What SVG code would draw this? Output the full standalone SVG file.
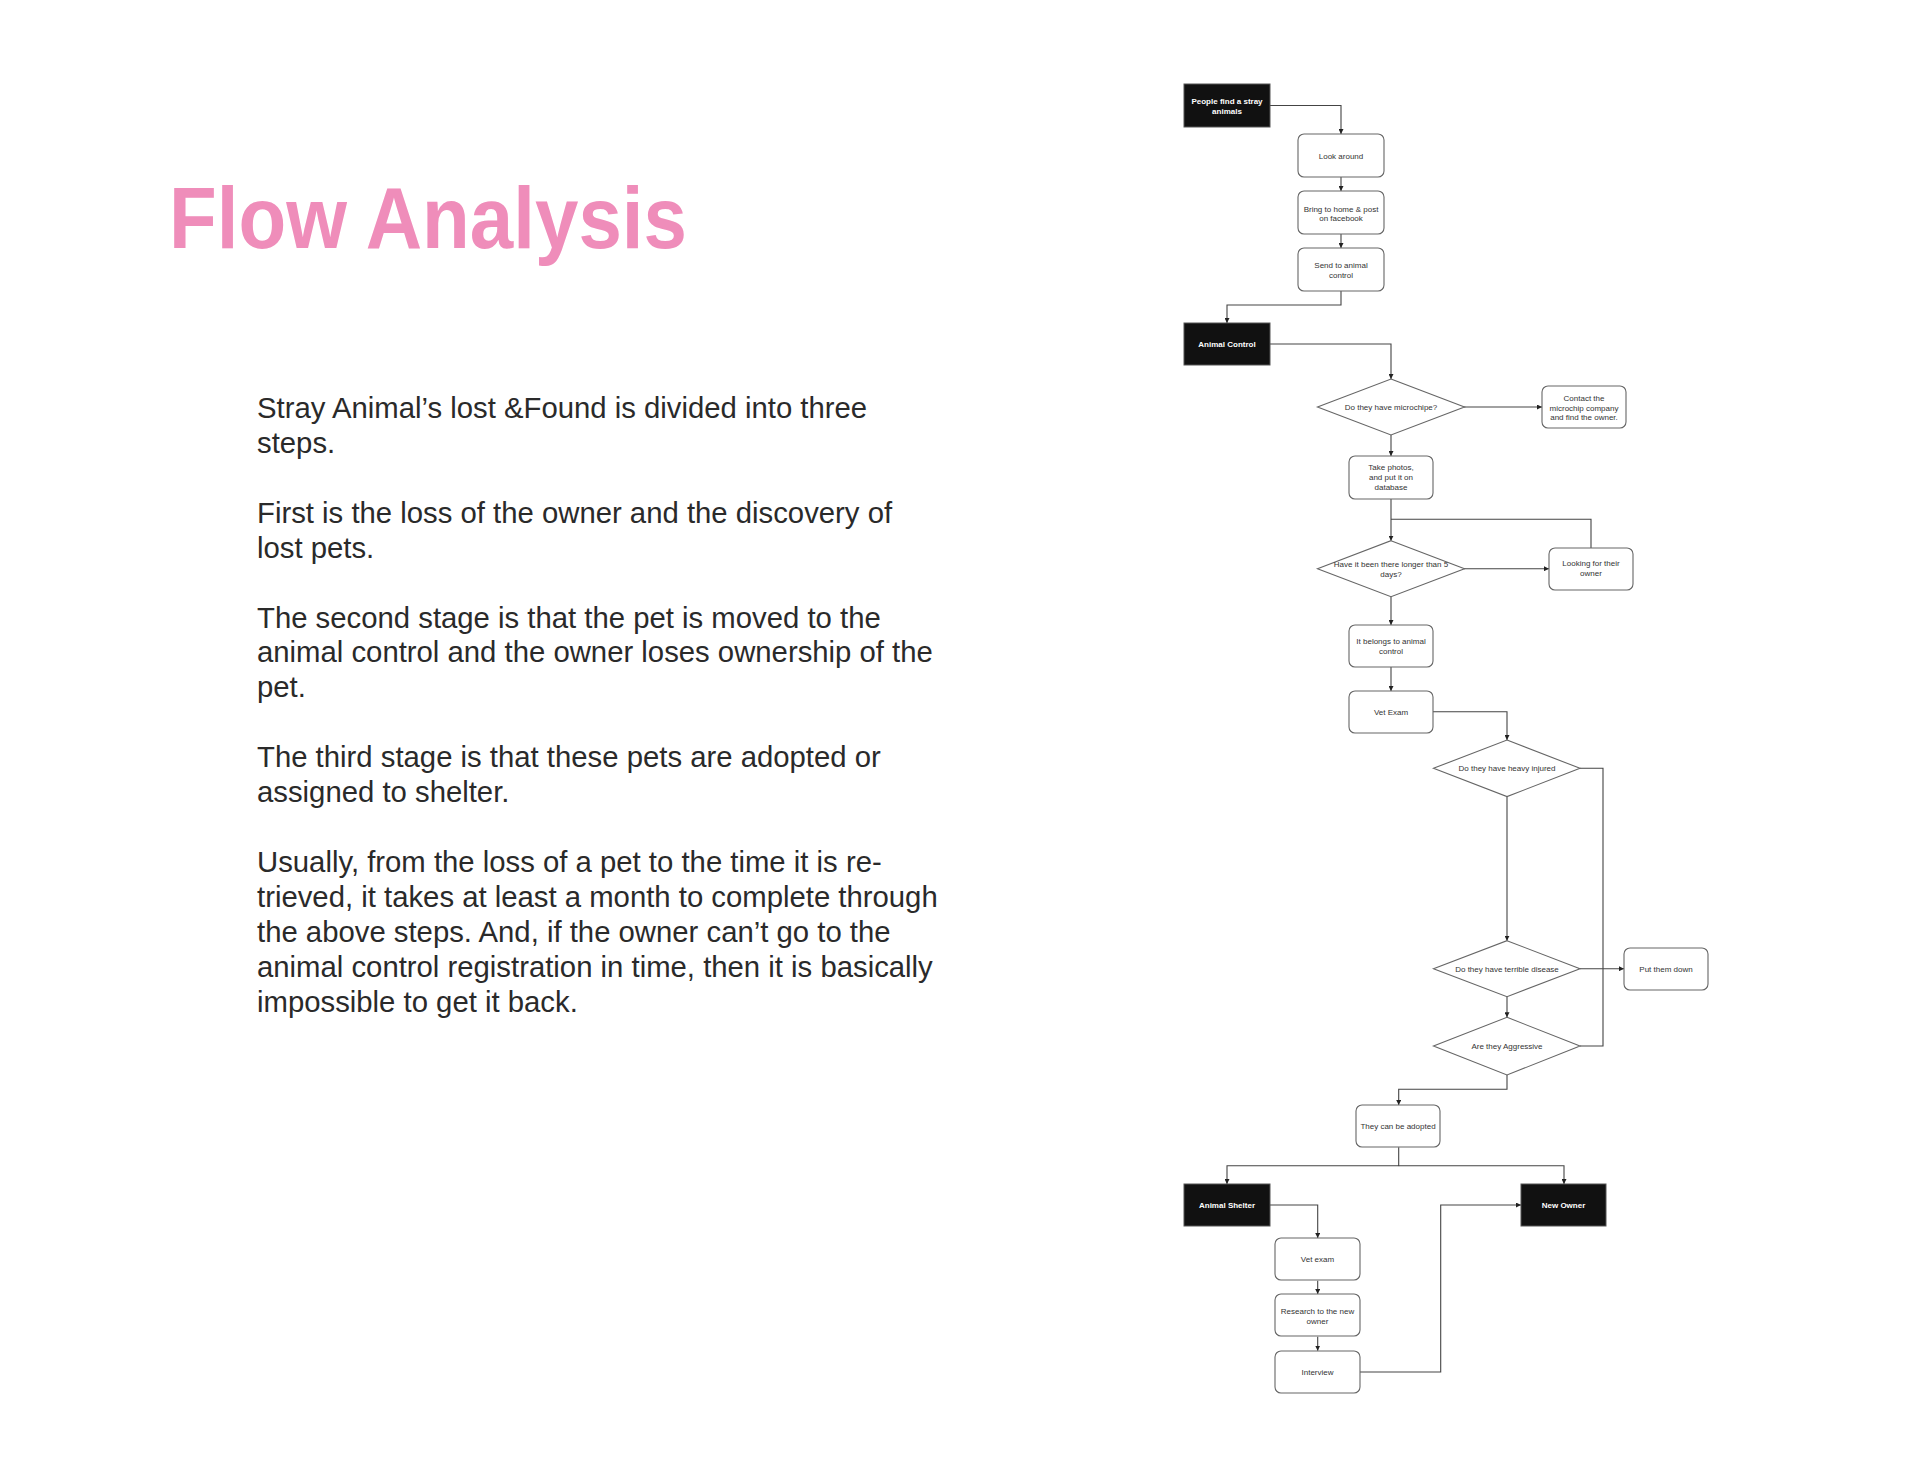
<svg xmlns="http://www.w3.org/2000/svg" width="1920" height="1484" viewBox="0 0 1920 1484">
<style>
.title{font-family:"Liberation Sans",Arial,sans-serif;font-weight:bold;font-size:87px;fill:#EF8DBA}
.body{font-family:"Liberation Sans",Arial,sans-serif;font-size:29.3px;fill:#2a2a2a}
.box{fill:#fff;stroke:#666;stroke-width:1.1}
.blk{fill:#111;stroke:#555;stroke-width:1}
.dia{fill:#fff;stroke:#666;stroke-width:1.1}
.t{font-family:"Liberation Sans",Arial,sans-serif;font-size:8px;fill:#333;text-anchor:middle}
.tw{font-family:"Liberation Sans",Arial,sans-serif;font-size:8px;font-weight:bold;fill:#fff;text-anchor:middle}
.ln{fill:none;stroke:#444;stroke-width:1.1}
.ar{marker-end:url(#ah)}
</style>
<defs>
<marker id="ah" viewBox="0 0 10 10" refX="10" refY="5" markerWidth="5" markerHeight="5" markerUnits="userSpaceOnUse" orient="auto">
<path d="M0,0 L10,5 L0,10 z" fill="#222"/>
</marker>
</defs>
<rect width="1920" height="1484" fill="#fff"/>

<g id="title"><text class="title" x="169" y="248" textLength="518" lengthAdjust="spacingAndGlyphs">Flow Analysis</text></g>

<g id="description" class="body">
<text x="257" y="418">Stray Animal’s lost &amp;Found is divided into three</text>
<text x="257" y="452.9">steps.</text>
<text x="257" y="522.8">First is the loss of the owner and the discovery of</text>
<text x="257" y="557.7">lost pets.</text>
<text x="257" y="627.5">The second stage is that the pet is moved to the</text>
<text x="257" y="662.4">animal control and the owner loses ownership of the</text>
<text x="257" y="697.3">pet.</text>
<text x="257" y="767.2">The third stage is that these pets are adopted or</text>
<text x="257" y="802.1">assigned to shelter.</text>
<text x="257" y="871.9">Usually, from the loss of a pet to the time it is re-</text>
<text x="257" y="906.8">trieved, it takes at least a month to complete through</text>
<text x="257" y="941.7">the above steps. And, if the owner can’t go to the</text>
<text x="257" y="976.6">animal control registration in time, then it is basically</text>
<text x="257" y="1011.5">impossible to get it back.</text>
</g>

<g id="connectors">
<path class="ln ar" d="M1270,105.5 H1341 V134"/>
<path class="ln ar" d="M1341,177 V191"/>
<path class="ln ar" d="M1341,234 V248"/>
<path class="ln ar" d="M1341,291 V305 H1227 V323"/>
<path class="ln ar" d="M1270,344 H1391 V379"/>
<path class="ln ar" d="M1464,407 H1542"/>
<path class="ln ar" d="M1391,435 V456"/>
<path class="ln ar" d="M1391,499 V540.7"/>
<path class="ln" d="M1591,548 V519.3 H1391"/>
<path class="ln ar" d="M1464,568.7 H1549"/>
<path class="ln ar" d="M1391,596.7 V625"/>
<path class="ln ar" d="M1391,667 V691"/>
<path class="ln ar" d="M1433,711.7 H1507 V740"/>
<path class="ln ar" d="M1507,796.6 V940.7"/>
<path class="ln" d="M1580,768.3 H1603 V1046 H1580"/>
<path class="ln ar" d="M1580,968.7 H1624"/>
<path class="ln ar" d="M1507,996.7 V1017.3"/>
<path class="ln ar" d="M1507,1075 V1089.3 H1398.7 V1105"/>
<path class="ln ar" d="M1398.7,1147.3 V1165.7 H1227 V1184"/>
<path class="ln ar" d="M1398.7,1165.7 H1564 V1184"/>
<path class="ln ar" d="M1269,1205 H1317.7 V1238"/>
<path class="ln ar" d="M1317.7,1280.7 V1294"/>
<path class="ln ar" d="M1317.7,1336.7 V1350.7"/>
<path class="ln ar" d="M1360,1372 H1440.7 V1205 H1521"/>
</g>

<g id="n-people"><rect class="blk" x="1184" y="84" width="86" height="43"/><text class="tw" x="1227" y="104">People find a stray</text><text class="tw" x="1227" y="113.5">animals</text></g>
<g id="n-look"><rect class="box" x="1298" y="134" width="86" height="43" rx="6"/><text class="t" x="1341" y="158.5">Look around</text></g>
<g id="n-bring"><rect class="box" x="1298" y="191" width="86" height="43" rx="6"/><text class="t" x="1341" y="211.8">Bring to home &amp; post</text><text class="t" x="1341" y="221.3">on facebook</text></g>
<g id="n-send"><rect class="box" x="1298" y="248" width="86" height="43" rx="6"/><text class="t" x="1341" y="268.3">Send to animal</text><text class="t" x="1341" y="277.8">control</text></g>
<g id="n-animal-control"><rect class="blk" x="1184" y="323" width="86" height="42"/><text class="tw" x="1227" y="347">Animal Control</text></g>
<g id="d-microchip"><path class="dia" d="M1391,379 L1464.5,407 L1391,435 L1317.5,407 Z"/><text class="t" x="1391" y="410">Do they have microchipe?</text></g>
<g id="n-contact"><rect class="box" x="1542" y="386" width="84" height="42" rx="6"/><text class="t" x="1584" y="400.7">Contact the</text><text class="t" x="1584" y="410.5">microchip company</text><text class="t" x="1584" y="420.3">and find the owner.</text></g>
<g id="n-photos"><rect class="box" x="1349" y="456" width="84" height="43" rx="6"/><text class="t" x="1391" y="470.3">Take photos,</text><text class="t" x="1391" y="480.1">and put it on</text><text class="t" x="1391" y="490">database</text></g>
<g id="d-days"><path class="dia" d="M1391,540.7 L1464.5,568.7 L1391,596.7 L1317.5,568.7 Z"/><text class="t" x="1391" y="567.3">Have it been there longer than 5</text><text class="t" x="1391" y="577">days?</text></g>
<g id="n-looking"><rect class="box" x="1549" y="548" width="84" height="42" rx="6"/><text class="t" x="1591" y="566.3">Looking for their</text><text class="t" x="1591" y="576.3">owner</text></g>
<g id="n-belongs"><rect class="box" x="1349" y="625" width="84" height="42" rx="6"/><text class="t" x="1391" y="644">It belongs to animal</text><text class="t" x="1391" y="653.7">control</text></g>
<g id="n-vet"><rect class="box" x="1349" y="691" width="84" height="42" rx="6"/><text class="t" x="1391" y="714.7">Vet Exam</text></g>
<g id="d-injured"><path class="dia" d="M1507,740 L1580,768.3 L1507,796.6 L1433.5,768.3 Z"/><text class="t" x="1507" y="771.3">Do they have heavy injured</text></g>
<g id="d-disease"><path class="dia" d="M1507,940.7 L1580,968.7 L1507,996.7 L1433.5,968.7 Z"/><text class="t" x="1507" y="971.7">Do they have terrible disease</text></g>
<g id="n-putdown"><rect class="box" x="1624" y="948" width="84" height="42" rx="6"/><text class="t" x="1666" y="971.7">Put them down</text></g>
<g id="d-aggressive"><path class="dia" d="M1507,1017.3 L1580,1046 L1507,1075 L1433.5,1046 Z"/><text class="t" x="1507" y="1049">Are they Aggressive</text></g>
<g id="n-adopted"><rect class="box" x="1356" y="1105" width="84" height="42" rx="6"/><text class="t" x="1398" y="1129.3">They can be adopted</text></g>
<g id="n-shelter"><rect class="blk" x="1184" y="1184" width="86" height="42"/><text class="tw" x="1227" y="1208">Animal Shelter</text></g>
<g id="n-newowner"><rect class="blk" x="1521" y="1184" width="85" height="42"/><text class="tw" x="1563.5" y="1208">New Owner</text></g>
<g id="n-vetexam"><rect class="box" x="1275" y="1238" width="85" height="42" rx="6"/><text class="t" x="1317.5" y="1262">Vet exam</text></g>
<g id="n-research"><rect class="box" x="1275" y="1294" width="85" height="42" rx="6"/><text class="t" x="1317.5" y="1314">Research to the new</text><text class="t" x="1317.5" y="1324">owner</text></g>
<g id="n-interview"><rect class="box" x="1275" y="1351" width="85" height="42" rx="6"/><text class="t" x="1317.5" y="1375.3">Interview</text></g>
</svg>
